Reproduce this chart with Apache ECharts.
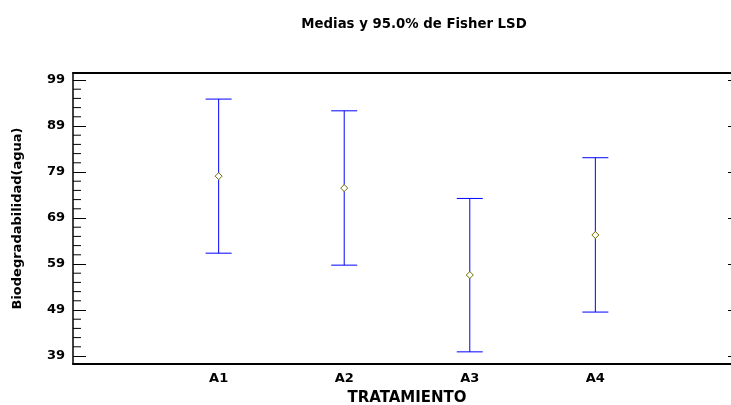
<!DOCTYPE html>
<html>
<head>
<meta charset="utf-8">
<script src="https://cdn.jsdelivr.net/npm/echarts@6/dist/echarts.min.js"></script>
<style>html,body{margin:0;padding:0;background:#fff;}#c{width:731px;height:405px;}</style>
</head>
<body>
<div id="c"></div>
<script>
const categories = ['A1', 'A2', 'A3', 'A4'];
const means = [78.1, 75.5, 56.6, 65.3];
const lower = [61.35, 58.75, 39.9, 48.55];
const upper = [94.85, 92.3, 73.25, 82.1];
const yTicks = [39, 49, 59, 69, 79, 89, 99];
const yMinorTicks = [41, 43, 45, 47, 51, 53, 55, 57, 61, 63, 65, 67, 71, 73, 75, 77, 81, 83, 85, 87, 91, 93, 95, 97];
const xPositions = [1, 2, 3, 4];
const titleText = 'Medias y 95.0% de Fisher LSD';
const xName = 'TRATAMIENTO';
const yName = 'Biodegradabilidad(agua)';

const FONT = 'DejaVu Sans';
const chart = echarts.init(document.getElementById('c'), null, {renderer: 'canvas'});

const yMin = 37.26, yMax = 100.52;
const xMin = -0.16, xMax = 5.16;

const ebData = categories.map((c, i) => [xPositions[i], lower[i], upper[i]]);
const meanData = categories.map((c, i) => [xPositions[i], means[i]]);
const minorData = yMinorTicks.map(v => [xMin, v]);

const option = {
  animation: false,
  backgroundColor: '#fff',
  title: {
    text: titleText,
    left: 409,
    top: 13,
    textAlign: 'center',
    textStyle: {fontFamily: FONT, fontWeight: 'bold', fontSize: 13.3, color: '#000'}
  },
  grid: {left: 73, top: 73, width: 668, height: 291, containLabel: false, outerBoundsMode: 'none'},
  xAxis: [{
    type: 'value', min: xMin, max: xMax, position: 'bottom',
    name: xName, nameLocation: 'middle', nameGap: 27,
    nameTextStyle: {fontFamily: FONT, fontWeight: 'bold', fontSize: 15, color: '#000'},
    axisLine: {show: true, onZero: false, lineStyle: {color: '#000', width: 2}},
    axisTick: {show: false},
    splitLine: {show: false},
    axisLabel: {
      customValues: xPositions, margin: 8,
      fontFamily: FONT, fontWeight: 'bold', fontSize: 13, color: '#000',
      formatter: v => categories[xPositions.indexOf(v)] || ''
    }
  }, {
    type: 'value', min: xMin, max: xMax, position: 'top',
    axisLine: {show: true, onZero: false, lineStyle: {color: '#000', width: 2}},
    axisTick: {show: false}, axisLabel: {show: false}, splitLine: {show: false}
  }],
  yAxis: [{
    type: 'value', min: yMin, max: yMax, position: 'left', offset: 0,
    name: yName, nameLocation: 'middle', nameGap: 49,
    nameTextStyle: {fontFamily: FONT, fontWeight: 'bold', fontSize: 13, color: '#000'},
    axisLine: {show: true, onZero: false, lineStyle: {color: '#000', width: 1.5}},
    axisTick: {show: true, inside: true, length: 13, customValues: yTicks, lineStyle: {color: '#000', width: 1}},
    axisLabel: {customValues: yTicks, margin: 8, fontFamily: FONT, fontWeight: 'bold', fontSize: 13, color: '#000'},
    splitLine: {show: false}
  }, {
    type: 'value', min: yMin, max: yMax, position: 'right', offset: 0,
    axisLine: {show: true, onZero: false, lineStyle: {color: '#000', width: 1.5}},
    axisTick: {show: true, inside: true, length: 13, customValues: yTicks, lineStyle: {color: '#000', width: 1}},
    axisLabel: {show: false}, splitLine: {show: false}
  }],
  series: [{
    /* minor ticks on the left axis, placed through the axis scales */
    type: 'scatter',
    xAxisIndex: 0, yAxisIndex: 0,
    data: minorData,
    symbol: 'rect',
    symbolSize: [8, 1],
    symbolOffset: [4, 0],
    symbolKeepAspect: false,
    clip: false,
    silent: true,
    itemStyle: {color: '#000', opacity: 1},
    emphasis: {disabled: true},
    z: 4
  }, {
    type: 'custom',
    xAxisIndex: 0, yAxisIndex: 0,
    data: ebData,
    renderItem: function (params, api) {
      const x = api.value(0);
      const lo = api.coord([x, api.value(1)]);
      const hi = api.coord([x, api.value(2)]);
      const hw = 13;
      const st = {stroke: '#0000ff', lineWidth: 1};
      return {
        type: 'group',
        children: [
          {type: 'line', shape: {x1: lo[0], y1: lo[1], x2: hi[0], y2: hi[1]}, style: st},
          {type: 'line', shape: {x1: hi[0] - hw, y1: hi[1], x2: hi[0] + hw, y2: hi[1]}, style: st},
          {type: 'line', shape: {x1: lo[0] - hw, y1: lo[1], x2: lo[0] + hw, y2: lo[1]}, style: st}
        ]
      };
    }
  }, {
    type: 'scatter',
    xAxisIndex: 0, yAxisIndex: 0,
    data: meanData,
    symbol: 'diamond',
    symbolSize: [7, 7],
    itemStyle: {color: '#ffffff', borderColor: '#707000', borderWidth: 1, opacity: 1},
    emphasis: {disabled: true},
    z: 5
  }]
};
chart.setOption(option);
</script>
</body>
</html>
